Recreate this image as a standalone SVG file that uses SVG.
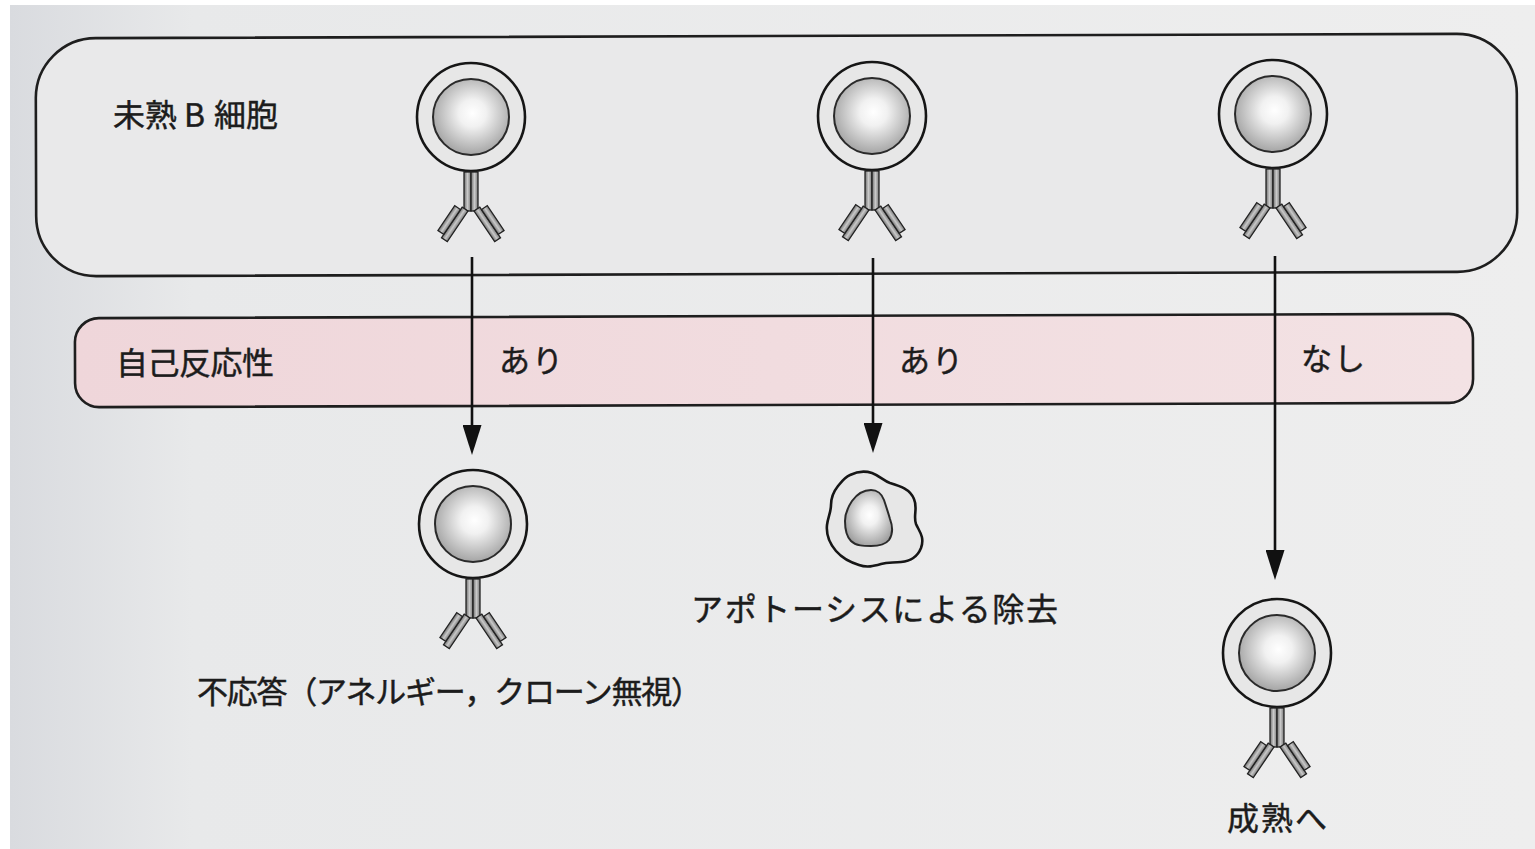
<svg xmlns="http://www.w3.org/2000/svg" xmlns:xlink="http://www.w3.org/1999/xlink" width="1535" height="849" viewBox="0 0 1535 849">
  <style>
    .lbl { font-family: "Noto Sans CJK JP", "Noto Sans", sans-serif; fill: #1c1c1c; stroke: #1c1c1c; stroke-width: 0.45; }
    .frame { stroke: #1e1e1e; stroke-width: 2.6; }
    .conn { stroke: #111; stroke-width: 2.6; fill: none; }
    .chain { fill: url(#chainGrad); stroke: #222; stroke-width: 1.3; }
    .memb { fill: #e7e7e7; stroke: #161616; stroke-width: 2.6; }
    .nuc { fill: url(#nucGrad); stroke: #2a2a2a; stroke-width: 2; }
  </style>
  <defs>
    <linearGradient id="pageGrad" x1="0" y1="0" x2="1" y2="0">
      <stop offset="0" stop-color="#d9dbdf"/>
      <stop offset="0.12" stop-color="#e8e9ea"/>
      <stop offset="1" stop-color="#eeeeee"/>
    </linearGradient>
    <linearGradient id="pinkGrad" x1="0" y1="0" x2="1" y2="0">
      <stop offset="0" stop-color="#efd6da"/>
      <stop offset="1" stop-color="#f3e2e4"/>
    </linearGradient>
    <radialGradient id="nucGrad" cx="0.52" cy="0.45" r="0.6">
      <stop offset="0" stop-color="#ffffff"/>
      <stop offset="0.3" stop-color="#f1f1f1"/>
      <stop offset="1" stop-color="#9a9a9a"/>
    </radialGradient>
    <linearGradient id="chainGrad" x1="0" y1="0" x2="1" y2="0">
      <stop offset="0" stop-color="#6f6f6f"/>
      <stop offset="0.5" stop-color="#c9c9c9"/>
      <stop offset="1" stop-color="#7a7a7a"/>
    </linearGradient>
    <marker id="arrowHead" viewBox="0 0 30 19" refX="10" refY="9.5" markerWidth="30" markerHeight="19" markerUnits="userSpaceOnUse" orient="auto">
      <path d="M0,0 L30,9.5 L0,19 z" fill="#111"/>
    </marker>
    <!-- B cell receptor: two-chain stem with a Y-shaped pair of arms -->
    <g id="bcr">
      <rect class="chain" x="-7" y="0" width="7" height="39"/>
      <rect class="chain" x="0" y="0" width="7" height="39"/>
      <g transform="translate(-3,39) rotate(34)">
        <rect class="chain" x="-7" y="0" width="7" height="37"/>
        <rect class="chain" x="-14" y="3" width="7" height="30"/>
      </g>
      <g transform="translate(3,39) rotate(-34)">
        <rect class="chain" x="0" y="0" width="7" height="37"/>
        <rect class="chain" x="7" y="3" width="7" height="30"/>
      </g>
    </g>
    <!-- B lymphocyte: membrane, nucleus and surface receptor -->
    <g id="bcell">
      <circle class="memb" r="54"/>
      <circle class="nuc" r="38"/>
      <use xlink:href="#bcr" y="55"/>
    </g>
  </defs>

  <!-- page -->
  <rect width="1535" height="849" fill="#ffffff"/>
  <rect x="10" y="5" width="1525" height="844" fill="url(#pageGrad)"/>

  <!-- stage panels -->
  <g id="immature-panel" transform="rotate(-0.18 776 155)">
    <rect class="frame" x="36" y="36" width="1481" height="238" rx="60" fill="#e9e9ea"/>
    <text class="lbl" font-size="32" y="125"><tspan x="113">未熟</tspan><tspan x="184">B</tspan><tspan x="214">細胞</tspan></text>
  </g>
  <g id="self-reactivity-panel" transform="rotate(-0.18 776 360)">
    <rect class="frame" x="75" y="316" width="1398" height="89" rx="24" fill="url(#pinkGrad)"/>
    <text class="lbl" font-size="32" x="116" y="373" textLength="158" lengthAdjust="spacing">自己反応性</text>
  </g>

  <!-- immature B cells -->
  <g id="cell-immature-1"><use xlink:href="#bcell" x="471" y="117"/></g>
  <g id="cell-immature-2"><use xlink:href="#bcell" x="872" y="116"/></g>
  <g id="cell-immature-3"><use xlink:href="#bcell" x="1273" y="114"/></g>

  <!-- connectors -->
  <g id="connectors">
    <line class="conn" x1="472" y1="257" x2="472" y2="435" marker-end="url(#arrowHead)"/>
    <line class="conn" x1="873" y1="258" x2="873" y2="433" marker-end="url(#arrowHead)"/>
    <line class="conn" x1="1275" y1="256" x2="1275" y2="560" marker-end="url(#arrowHead)"/>
  </g>

  <!-- reactivity labels -->
  <g id="label-yes-1"><text class="lbl" font-size="31" x="499" y="372" textLength="64" lengthAdjust="spacing">あり</text></g>
  <g id="label-yes-2"><text class="lbl" font-size="31" x="899" y="372" textLength="64" lengthAdjust="spacing">あり</text></g>
  <g id="label-no"><text class="lbl" font-size="31" x="1301" y="370" textLength="64" lengthAdjust="spacing">なし</text></g>

  <!-- outcome: anergy / clonal ignorance -->
  <g id="cell-anergy">
    <use xlink:href="#bcell" x="473" y="524"/>
    <text class="lbl" font-size="31" x="197" y="703" textLength="505" lengthAdjust="spacing">不応答（アネルギー，クローン無視）</text>
  </g>

  <!-- outcome: apoptotic deletion -->
  <g id="cell-apoptosis">
    <path class="memb" d="M850,475 C858,471 866,471 872,473 C880,476 884,481 890,483 C900,486 910,489 914,499 C918,508 913,516 916,524 C919,531 925,537 921,548 C917,558 910,561 901,562 C893,563 888,562 881,564 C874,566 867,568 859,565 C850,562 843,559 836,551 C829,543 826,535 827,525 C828,517 831,512 831,505 C831,497 834,491 838,486 C842,481 845,477 850,475 Z"/>
    <path class="nuc" d="M871,490 C877,490 882,494 884,500 C886,506 888,512 890,519 C893,527 893,534 889,540 C885,545 879,546 871,546 C864,546 856,546 851,541 C846,536 845,529 845,521 C845,513 848,507 852,501 C857,494 864,490 871,490 Z"/>
    <text class="lbl" font-size="32" x="691" y="621" textLength="367" lengthAdjust="spacing">アポトーシスによる除去</text>
  </g>

  <!-- outcome: maturation -->
  <g id="cell-mature">
    <use xlink:href="#bcell" x="1277" y="653"/>
    <text class="lbl" font-size="32" x="1227" y="830" textLength="100" lengthAdjust="spacing">成熟へ</text>
  </g>
</svg>
